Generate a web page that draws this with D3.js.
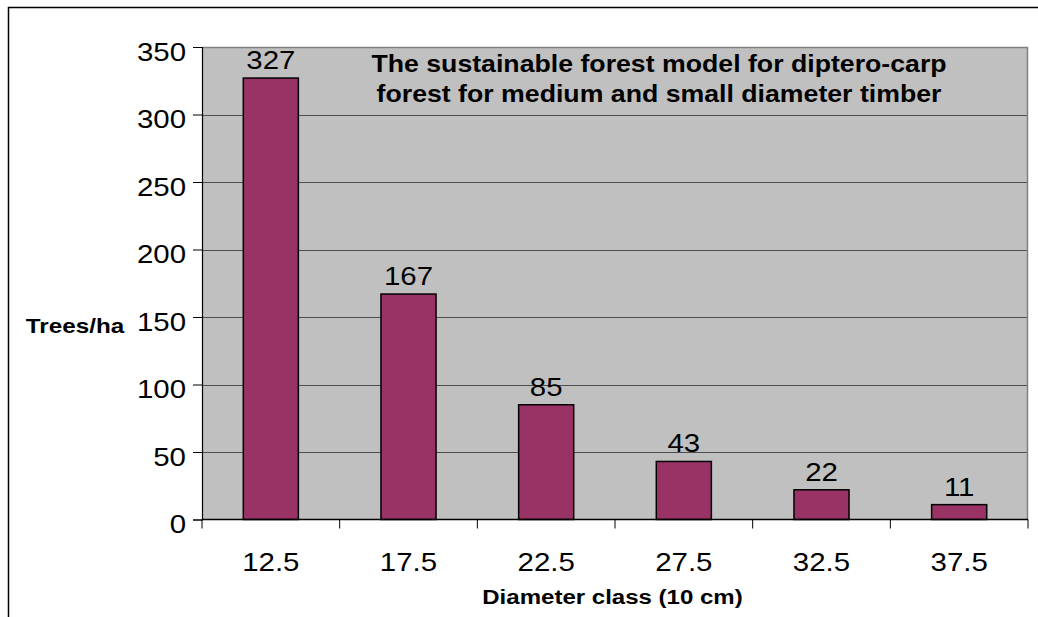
<!DOCTYPE html>
<html><head><meta charset="utf-8">
<script src="https://cdn.jsdelivr.net/npm/d3@7"></script>
<style>
html,body{margin:0;padding:0;background:#fff;}
svg{display:block;font-family:"Liberation Sans",Arial,sans-serif;}
</style></head>
<body>
<svg id="chart" width="1038" height="617"></svg>
<script>
const categories = ["12.5","17.5","22.5","27.5","32.5","37.5"];
const values = [327,167,85,43,22,11];
const yTicks = [0,50,100,150,200,250,300,350];
const titleLines = ["The sustainable forest model for diptero-carp","forest for medium and small diameter timber"];
const xTitle = "Diameter class (10 cm)";
const yTitle = "Trees/ha";

const SX = 1.15; // horizontal stretch of the original rendering
const NUM = 25.6;
const svg = d3.select("#chart");
const L = 202, R = 1028, T = 47, B = 519.5;

function stretched(sel, x, y) {
  return sel.attr("transform", `translate(${x},${y}) scale(${SX},1)`);
}

// outer frame
svg.append("path").attr("d", `M8.5,617 L8.5,7.5 L1038,7.5`).attr("fill","none").attr("stroke","#000").attr("stroke-width",1.5);

const x = d3.scaleBand().domain(categories).range([L,R]).paddingInner(0.6).paddingOuter(0.3);
const y = d3.scaleLinear().domain([0,350]).range([B,T]);

svg.append("rect").attr("x",L).attr("y",T).attr("width",R-L).attr("height",B-T).attr("fill","#C0C0C0");

// gridlines
svg.append("g").selectAll("line").data(yTicks.filter(d=>d>0 && d<350)).join("line")
  .attr("x1",L).attr("x2",R).attr("y1",d=>Math.round(y(d))+0.5).attr("y2",d=>Math.round(y(d))+0.5)
  .attr("stroke","#4d4d4d").attr("stroke-width",1);

// plot top/right border
svg.append("path").attr("d",`M${L},${T+0.5} L${R-0.5},${T+0.5} L${R-0.5},${B}`).attr("fill","none").attr("stroke","#808080").attr("stroke-width",1.5);

// bars
svg.append("g").selectAll("rect").data(values).join("rect")
  .attr("x",(d,i)=>x(categories[i])).attr("width",x.bandwidth())
  .attr("y",d=>y(d)).attr("height",d=>y(0)-y(d))
  .attr("fill","#993366").attr("stroke","#000").attr("stroke-width",1.5);

// data labels
svg.append("g").selectAll("text").data(values).join("text")
  .each(function(d,i){ stretched(d3.select(this), x(categories[i])+x.bandwidth()/2, y(d)-9); })
  .attr("text-anchor","middle").attr("font-size",NUM).attr("fill","#000").text(d=>d);

// y axis
const yAxis = d3.axisLeft(y).tickValues(yTicks).tickSize(9).tickPadding(10).tickFormat(d3.format("d"));
const gy = svg.append("g").attr("transform",`translate(${L},0)`).call(yAxis);
gy.select(".domain").attr("stroke","#000").attr("stroke-width",1.2);
gy.selectAll(".tick line").attr("stroke","#000");
gy.selectAll(".tick text").attr("x",0).attr("dy",null)
  .attr("transform",`translate(-16,13) scale(${SX},1)`)
  .attr("font-size",NUM).attr("font-family","Liberation Sans, Arial, sans-serif").attr("fill","#000");

// x axis (ticks at category boundaries)
const xb = d3.scaleLinear().domain([0,categories.length]).range([L,R]);
const gx = svg.append("g").attr("transform",`translate(0,${B})`);
gx.append("line").attr("x1",L).attr("x2",R).attr("stroke","#000").attr("stroke-width",1.5);
gx.selectAll("line.tk").data(d3.range(categories.length+1)).join("line").attr("class","tk")
  .attr("x1",d=>xb(d)).attr("x2",d=>xb(d)).attr("y1",0).attr("y2",9).attr("stroke","#000");
gx.selectAll("text").data(categories).join("text")
  .each(function(d){ stretched(d3.select(this), x(d)+x.bandwidth()/2, 51); })
  .attr("text-anchor","middle").attr("font-size",NUM).attr("fill","#000").text(d=>d);

// titles
svg.append("g").selectAll("text").data(titleLines).join("text")
  .each(function(d,i){ stretched(d3.select(this), 659, 72+i*29.5); })
  .attr("text-anchor","middle")
  .attr("font-size",23.2).attr("font-weight","bold").text(d=>d);
stretched(svg.append("text"), 612.5, 604).attr("text-anchor","middle")
  .attr("font-size",20.9).attr("font-weight","bold").text(xTitle);
stretched(svg.append("text"), 75, 333).attr("text-anchor","middle")
  .attr("font-size",21.1).attr("font-weight","bold").text(yTitle);
</script>
</body></html>
